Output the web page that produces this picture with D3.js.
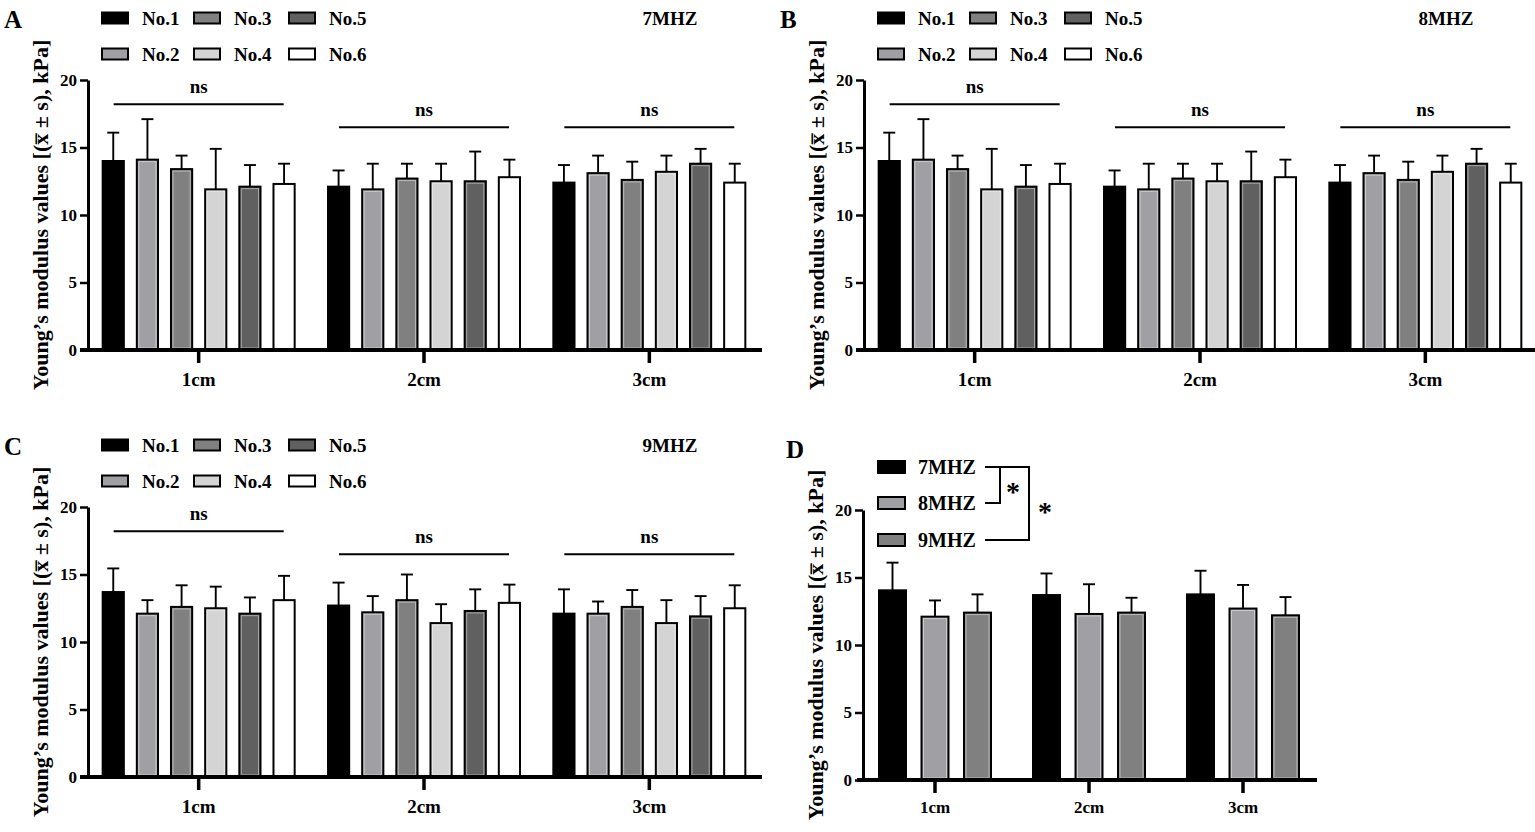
<!DOCTYPE html>
<html>
<head>
<meta charset="utf-8">
<script src="https://cdn.jsdelivr.net/npm/d3@7"></script>
<style>
  body { margin: 0; background: #fff; }
  svg { display: block; }
  text { font-family: "Liberation Serif", "Times New Roman", serif; font-weight: bold; fill: #000; }
</style>
</head>
<body>
<svg id="chart"></svg>
<script>
// data
const depths = ["1cm", "2cm", "3cm"];
const samples = ["No.1", "No.2", "No.3", "No.4", "No.5", "No.6"];
const sampleColors = ["#000000", "#a0a0a4", "#808080", "#d4d4d4", "#606060", "#ffffff"];
const freqs = ["7MHZ", "8MHZ", "9MHZ"];
const freqColors = ["#000000", "#a0a0a4", "#808080"];
const yTicks = [0, 5, 10, 15, 20];

// rows = depth, columns = sample
const mean7 = [[14.0, 14.1, 13.4, 11.9, 12.1, 12.3],
               [12.1, 11.9, 12.7, 12.5, 12.5, 12.8],
               [12.4, 13.1, 12.6, 13.2, 13.8, 12.4]];
const sd7 = [[2.1, 3.0, 1.0, 3.0, 1.6, 1.5],
             [1.2, 1.9, 1.1, 1.3, 2.2, 1.3],
             [1.3, 1.3, 1.35, 1.2, 1.1, 1.4]];
const mean8 = [[14.0, 14.1, 13.4, 11.9, 12.1, 12.3],
               [12.1, 11.9, 12.7, 12.5, 12.5, 12.8],
               [12.4, 13.1, 12.6, 13.2, 13.8, 12.4]];
const sd8 = [[2.1, 3.0, 1.0, 3.0, 1.6, 1.5],
             [1.2, 1.9, 1.1, 1.3, 2.2, 1.3],
             [1.3, 1.3, 1.35, 1.2, 1.1, 1.4]];
const mean9 = [[13.7, 12.1, 12.6, 12.5, 12.1, 13.1],
               [12.7, 12.2, 13.1, 11.4, 12.3, 12.9],
               [12.1, 12.1, 12.6, 11.4, 11.9, 12.5]];
const sd9 = [[1.75, 1.0, 1.6, 1.6, 1.2, 1.8],
             [1.7, 1.2, 1.9, 1.4, 1.6, 1.35],
             [1.8, 0.9, 1.25, 1.7, 1.5, 1.7]];
// panel D, rows = depth, columns = frequency
const meanAll = [[14.05, 12.1, 12.4],
                 [13.7, 12.3, 12.4],
                 [13.75, 12.7, 12.2]];
const sdAll = [[2.05, 1.2, 1.35],
               [1.6, 2.2, 1.1],
               [1.75, 1.75, 1.35]];
// "ns" bracket heights per depth (kPa)
const nsLevel = [18.2, 16.5, 16.5];

const width = 1535, height = 832;
const svg = d3.select("#chart").attr("width", width).attr("height", height);

const yTitle = "Young\u2019s modulus values [(x\u0305 \u00b1 s), kPa]";

function drawPanel(cfg) {
  const g = svg.append("g").attr("transform", `translate(${cfg.ox},${cfg.oy})`);

  const y = d3.scaleLinear().domain([0, 20]).range([350, 80]);
  const x0 = d3.scaleBand().domain(depths).range(cfg.xRange);
  const x1 = d3.scaleBand().domain(cfg.series).range(cfg.inner).paddingInner(cfg.pad);
  const cx = d => x0(d) + x0.bandwidth() / 2;

  // bars
  const groups = g.append("g").selectAll("g")
    .data(depths)
    .join("g")
    .attr("transform", d => `translate(${cx(d)},0)`);

  const rows = groups.selectAll("g.bar")
    .data((d, i) => cfg.series.map((s, j) => ({ s, j, m: cfg.means[i][j], e: cfg.sds[i][j] })))
    .join("g").attr("class", "bar");

  rows.append("line")
    .attr("x1", d => x1(d.s) + x1.bandwidth() / 2)
    .attr("x2", d => x1(d.s) + x1.bandwidth() / 2)
    .attr("y1", d => y(d.m))
    .attr("y2", d => y(d.m + d.e))
    .attr("stroke", "#000").attr("stroke-width", 1.9);
  rows.append("line")
    .attr("x1", d => x1(d.s) + x1.bandwidth() / 2 - 6)
    .attr("x2", d => x1(d.s) + x1.bandwidth() / 2 + 6)
    .attr("y1", d => y(d.m + d.e))
    .attr("y2", d => y(d.m + d.e))
    .attr("stroke", "#000").attr("stroke-width", 1.9);
  rows.append("rect")
    .attr("x", d => x1(d.s))
    .attr("y", d => y(d.m))
    .attr("width", x1.bandwidth())
    .attr("height", d => y(0) - y(d.m))
    .attr("fill", d => cfg.colors[d.j])
    .attr("stroke", "#000").attr("stroke-width", 2);
  // faint inner edge like the original bars
  rows.filter(d => cfg.colors[d.j] !== "#000000" && cfg.colors[d.j] !== "#ffffff")
    .append("rect")
    .attr("x", d => x1(d.s) + 2)
    .attr("y", d => y(d.m) + 2)
    .attr("width", x1.bandwidth() - 4)
    .attr("height", d => y(0) - y(d.m) - 4)
    .attr("fill", "none")
    .attr("stroke", "#ffffff").attr("stroke-opacity", 0.45).attr("stroke-width", 1);

  // axes
  const yAxis = g.append("g")
    .attr("transform", `translate(${cfg.yAxisX},0)`)
    .call(d3.axisLeft(y).tickValues(yTicks).tickSize(8).tickSizeOuter(0).tickPadding(3));
  yAxis.select(".domain").attr("stroke-width", 3);
  yAxis.selectAll(".tick line").attr("stroke-width", 2.5);
  yAxis.selectAll(".tick text").attr("font-size", 17).style("font-family", "Liberation Serif").style("font-weight", "bold");

  const xAxis = g.append("g")
    .attr("transform", `translate(0,${y(0)})`)
    .call(d3.axisBottom(x0).tickSize(13).tickSizeOuter(0).tickPadding(cfg.xPad));
  xAxis.select(".domain").remove();
  xAxis.append("line")
    .attr("x1", cfg.xLine[0]).attr("x2", cfg.xLine[1])
    .attr("stroke", "#000").attr("stroke-width", 4);
  xAxis.selectAll(".tick line").attr("stroke-width", 3.5);
  xAxis.selectAll(".tick text").attr("font-size", cfg.xFont).style("font-family", "Liberation Serif").style("font-weight", "bold");

  // y title
  g.append("text")
    .attr("transform", `translate(${cfg.yAxisX - 48},${(y(0) + y(20)) / 2}) rotate(-90)`)
    .attr("text-anchor", "middle")
    .attr("dominant-baseline", "central")
    .attr("font-size", 22)
    .text(yTitle);

  // panel letter
  g.append("text").attr("x", cfg.letterX).attr("y", 28).attr("font-size", 25).text(cfg.letter);

  return { g, y, x0, cx };
}

// legend for the six-sample panels
function sampleLegend(g) {
  const order = [0, 2, 4, 1, 3, 5];
  const colX = [102, 194, 289];
  const rowY = [18, 54];
  const items = g.append("g").selectAll("g")
    .data(order)
    .join("g")
    .attr("transform", (d, k) => `translate(${colX[k % 3]},${rowY[Math.floor(k / 3)]})`);
  items.append("rect")
    .attr("x", 0).attr("y", -5.5).attr("width", 26).attr("height", 11)
    .attr("fill", d => sampleColors[d]).attr("stroke", "#000").attr("stroke-width", 2);
  items.append("text")
    .attr("x", 40).attr("y", 6.5).attr("font-size", 19)
    .text(d => samples[d]);
}

function nsMarks(p) {
  p.g.append("g").selectAll("g")
    .data(depths)
    .join("g")
    .each(function (d, i) {
      const s = d3.select(this);
      const c = p.cx(d);
      s.append("line")
        .attr("x1", c - 85).attr("x2", c + 85)
        .attr("y1", p.y(nsLevel[i])).attr("y2", p.y(nsLevel[i]))
        .attr("stroke", "#000").attr("stroke-width", 2);
      s.append("text")
        .attr("x", c).attr("y", p.y(nsLevel[i]) - 11)
        .attr("text-anchor", "middle").attr("font-size", 19)
        .text("ns");
    });
}

const sixCfg = {
  series: samples, colors: sampleColors,
  xRange: [86, 762], inner: [-96, 96], pad: 0.38,
  yAxisX: 88, xLine: [80, 762], xFont: 19, xPad: 10, letterX: 4
};

const panels = [
  { ox: 0, oy: 0, letter: "A", means: mean7, sds: sd7, freq: "7MHZ" },
  { ox: 776, oy: 0, letter: "B", means: mean8, sds: sd8, freq: "8MHZ" },
  { ox: 0, oy: 427, letter: "C", means: mean9, sds: sd9, freq: "9MHZ" }
];

panels.forEach(pc => {
  const p = drawPanel(Object.assign({}, sixCfg, pc));
  sampleLegend(p.g);
  nsMarks(p);
  p.g.append("text").attr("x", 670).attr("y", 25).attr("text-anchor", "middle")
    .attr("font-size", 19).text(pc.freq);
});

// panel D
const pD = drawPanel({
  ox: 0, oy: 430, letter: "D", letterX: 786,
  series: freqs, colors: freqColors, means: meanAll, sds: sdAll,
  xRange: [858, 1320], inner: [-56, 56], pad: 0.365,
  yAxisX: 863, xLine: [857, 1317], xFont: 17, xPad: 8
});

const dRows = [37, 73, 110];
const dLeg = pD.g.append("g").selectAll("g")
  .data(freqs)
  .join("g")
  .attr("transform", (d, i) => `translate(878,${dRows[i]})`);
dLeg.append("rect")
  .attr("x", 0).attr("y", -6).attr("width", 27).attr("height", 12)
  .attr("fill", (d, i) => freqColors[i]).attr("stroke", "#000").attr("stroke-width", 2);
dLeg.append("text")
  .attr("x", 40).attr("y", 7).attr("font-size", 20)
  .text(d => d);

// significance brackets next to the legend
const br = pD.g.append("g").attr("fill", "none").attr("stroke", "#000").attr("stroke-width", 2);
br.append("path").attr("d", `M985,${dRows[0]}H1029V${dRows[2]}H985`);
br.append("path").attr("d", `M1000,${dRows[0]}V${dRows[1]}H985`);
pD.g.append("text").attr("x", 1013).attr("y", 71).attr("text-anchor", "middle").attr("font-size", 28).text("*");
pD.g.append("text").attr("x", 1045).attr("y", 91).attr("text-anchor", "middle").attr("font-size", 28).text("*");
</script>
</body>
</html>
